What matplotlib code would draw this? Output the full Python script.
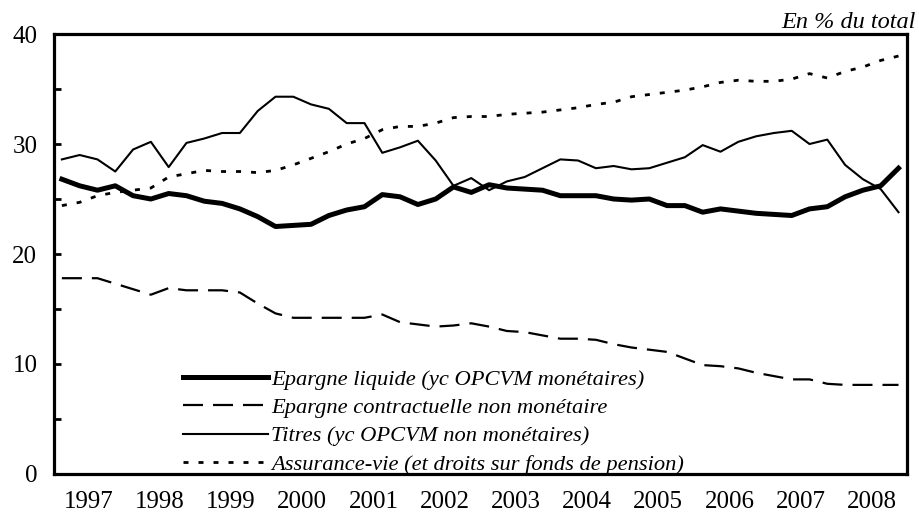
import numpy as np
import pandas as pd
import matplotlib
matplotlib.use("Agg")
import matplotlib.pyplot as plt

# quarterly data, 1997Q1 - 2008Q4, in % of total
quarters = pd.period_range("1997Q1", "2008Q4", freq="Q")

liquide = [
    26.8, 26.2, 25.8, 26.2, 25.3, 25.0, 25.5, 25.3, 24.8, 24.6, 24.1, 23.4,
    22.5, 22.6, 22.7, 23.5, 24.0, 24.3, 25.4, 25.2, 24.5, 25.0, 26.1, 25.6,
    26.3, 26.0, 25.9, 25.8, 25.3, 25.3, 25.3, 25.0, 24.9, 25.0, 24.4, 24.4,
    23.8, 24.1, 23.9, 23.7, 23.6, 23.5, 24.1, 24.3, 25.2, 25.8, 26.2, 27.8,
]
contractuelle = [
    17.8, 17.8, 17.8, 17.3, 16.8, 16.3, 16.9, 16.7, 16.7, 16.7, 16.5, 15.5,
    14.6, 14.2, 14.2, 14.2, 14.2, 14.2, 14.5, 13.8, 13.6, 13.4, 13.5, 13.7,
    13.4, 13.0, 12.9, 12.6, 12.3, 12.3, 12.2, 11.8, 11.5, 11.3, 11.1, 10.5,
    9.9, 9.8, 9.6, 9.2, 8.9, 8.6, 8.6, 8.2, 8.1, 8.1, 8.1, 8.1,
]
titres = [
    28.6, 29.0, 28.6, 27.5, 29.5, 30.2, 27.9, 30.1, 30.5, 31.0, 31.0, 33.0,
    34.3, 34.3, 33.6, 33.2, 31.9, 31.9, 29.2, 29.7, 30.3, 28.5, 26.2, 26.9,
    25.8, 26.6, 27.0, 27.8, 28.6, 28.5, 27.8, 28.0, 27.7, 27.8, 28.3, 28.8,
    29.9, 29.3, 30.2, 30.7, 31.0, 31.2, 30.0, 30.4, 28.1, 26.8, 25.9, 23.8,
]
assurance = [
    24.4, 24.7, 25.3, 25.6, 25.8, 26.0, 27.0, 27.3, 27.6, 27.5, 27.5, 27.4,
    27.6, 28.1, 28.7, 29.3, 30.0, 30.5, 31.3, 31.6, 31.6, 31.9, 32.4, 32.5,
    32.5, 32.7, 32.8, 32.9, 33.1, 33.3, 33.6, 33.8, 34.3, 34.5, 34.7, 34.9,
    35.2, 35.6, 35.8, 35.7, 35.7, 35.9, 36.4, 36.0, 36.6, 37.0, 37.6, 38.0,
]
years = list(range(1997, 2009))

labels = [
    "Epargne liquide (yc OPCVM monétaires)",
    "Epargne contractuelle non monétaire",
    "Titres (yc OPCVM non monétaires)",
    "Assurance-vie (et droits sur fonds de pension)",
]

x = np.array([q.year + (q.quarter - 1) / 4 for q in quarters])

plt.rcParams["font.family"] = ["Liberation Serif", "DejaVu Serif"]

fig = plt.figure(figsize=(9.19, 5.17), dpi=100)
ax = fig.add_axes([0.0588, 0.0832, 0.9282, 0.851])

ax.plot(x, liquide, color="black", lw=3.6, label=labels[0], solid_joinstyle="round")
ax.plot(x, contractuelle, color="black", lw=1.6, dashes=(9, 4.5), label=labels[1])
ax.plot(x, titres, color="black", lw=1.5, label=labels[2])
ax.plot(x, assurance, color="black", lw=2.0, dashes=(1.8, 3.6), label=labels[3])

ax.set_xlim(x[0] - 0.11, x[-1] + 0.12)
ax.set_ylim(0, 40)
ax.set_yticks(range(0, 41, 10))
ax.set_yticks(range(5, 40, 10), minor=True)
ax.tick_params(axis="y", which="both", direction="in", length=5, width=2,
               pad=12, labelsize=18)
ax.set_xticks([y + 0.375 for y in years])
ax.set_xticklabels([str(y) for y in years])
ax.tick_params(axis="x", length=0, pad=12, labelsize=18)

for s in ax.spines.values():
    s.set_linewidth(2.3)

leg = ax.legend(
    loc="upper left",
    bbox_to_anchor=(0.151, 0.239),
    frameon=False,
    borderpad=0,
    borderaxespad=0,
    handlelength=3.8,
    handletextpad=0.12,
    labelspacing=0.34,
    prop={"style": "italic", "size": 16.2},
)

fig.text(0.996, 0.957, "En % du total", ha="right", va="center",
         style="italic", fontsize=17.5)

fig.savefig("out.png", dpi=100)
plt.close("all")
